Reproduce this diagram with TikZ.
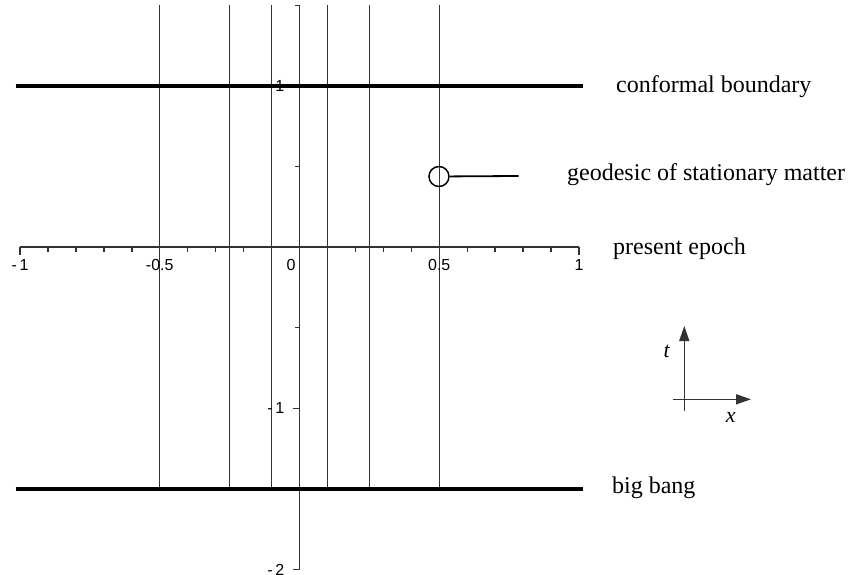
\documentclass[tikz,border=0pt]{standalone}
\usepackage{fontspec}
\setmainfont{Liberation Serif}
\newfontfamily\tickfont{Liberation Sans}
\usepackage{xcolor}
\usepackage{tikz}
\usetikzlibrary{
  arrows.meta,
  positioning,
}
\definecolor{ink}{HTML}{000000}
\definecolor{rule}{HTML}{333333}
\definecolor{pagebg}{HTML}{FFFFFF}
\tikzset{
  >={Triangle[length=15pt,width=10pt]},
  axis/.style={draw=rule, line width=1.4pt},
  worldline/.style={draw=rule, line width=1.4pt},
  slice/.style={draw=ink, line width=4pt},
  ticklabel/.style={font=\tickfont\fontsize{16}{19}\selectfont, inner sep=0pt, text=ink},
  note/.style={font=\fontsize{24}{28}\selectfont, inner sep=0pt, anchor=base west, text=ink},
  axlabel/.style={font=\itshape\fontsize{22}{26}\selectfont, inner sep=0pt, text=ink},
  frame/.style={draw=rule, line width=1.5pt},
}

\begin{document}
\begin{tikzpicture}[x=279.5pt,y=161.2pt]
  \useasboundingbox (-1.0716,-2.0340) rectangle (1.9660,1.5329);
  \fill[pagebg] (-1.0716,-2.0340) rectangle (1.9660,1.5329);

  % geodesics of stationary matter
  \foreach \x in {-0.5,-0.25,-0.1,0.1,0.25,0.5} {
    \draw[worldline] (\x,-1.5) -- (\x,1.5);
  }

  % axes and ticks
  \draw[axis] (-1,0) -- (1,0);
  \draw[axis] (0,-2) -- (0,1.5);
  \foreach \i in {-10,...,10} {
    \draw[axis] (\i/10,0) -- ++(0,-5pt);
  }
  \foreach \x/\lab in {-1/-\,1,-0.5/-0.5,0.5/0.5,1/1} {
    \draw[axis] (\x,0) -- ++(0,-8pt);
    \node[ticklabel, below=12pt] at (\x,0) {\lab};
  }
  \node[ticklabel, below=12pt] (xzero) at (-0.0304,0) {0};
  \foreach \y in {1.5,0.5,-0.5,-1.5} {
    \draw[axis] (0,\y) -- ++(-5pt,0);
  }
  \foreach \y/\lab in {1/1,-1/-\,1,-2/-\,2} {
    \draw[axis] (0,\y) -- ++(-7pt,0);
    \node[ticklabel, left=15pt] at (0,\y) {\lab};
  }

  % conformal boundary and big bang
  \draw[slice] (-1.015,1) -- (1.015,1);
  \draw[slice] (-1.015,-1.5) -- (1.015,-1.5);

  % marked geodesic
  \node[draw=ink, circle, line width=1.5pt, minimum size=20pt, inner sep=0pt] (geo) at (0.499,0.438) {};
  \coordinate (geoend) at (0.7836,0.4412);
  \draw[ink, line width=1.8pt] (geo) -- (geoend);

  \node[note] (boundary) at (1.1324,0.9603) {conformal boundary};
  \node[note] (geodesic) at (0.957,0.412) {geodesic of stationary matter};
  \node[note] (epoch) at (1.1216,-0.0428) {present epoch};
  \node[note] (bang) at (1.118,-1.527) {big bang};

  % small t-x frame
  \coordinate (tstart) at (1.3767,-1.0149);
  \coordinate (tend) at (1.3767,-0.4895);
  \coordinate (xstart) at (1.3352,-0.9442);
  \coordinate (xend) at (1.6154,-0.9442);
  \draw[frame, ->] (tstart) -- (tend);
  \draw[frame, ->] (xstart) -- (xend);
  \node[axlabel] (tlab) at (1.3138,-0.6489) {t};
  \node[axlabel] (xlab) at (1.5427,-1.0558) {x};
\end{tikzpicture}
\end{document}
